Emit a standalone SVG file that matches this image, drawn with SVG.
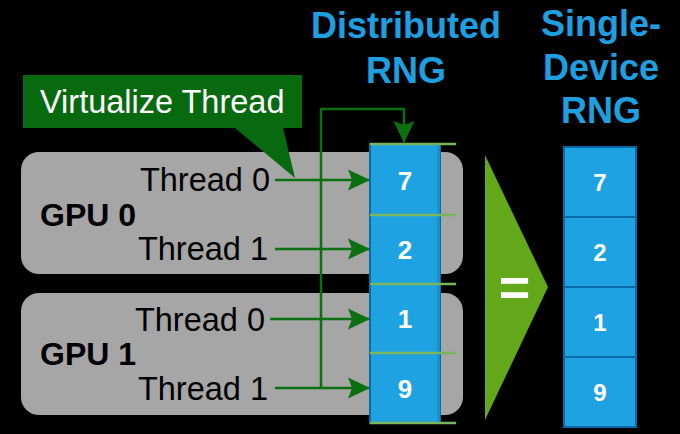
<svg xmlns="http://www.w3.org/2000/svg" width="680" height="434" viewBox="0 0 680 434">
<defs>
<style>
.gpu{fill:#a6a6a6}
.lbl{font-family:"Liberation Sans",Arial,sans-serif;font-size:32.5px;fill:#000}
.gpul{font-family:"Liberation Sans",Arial,sans-serif;font-size:32px;font-weight:bold;fill:#000}
.head{font-family:"Liberation Sans",Arial,sans-serif;font-size:36px;font-weight:bold;fill:#1ea0e0;text-anchor:middle}
.num{font-family:"Liberation Sans",Arial,sans-serif;font-size:26px;font-weight:bold;fill:#fff;text-anchor:middle}
.num2{font-family:"Liberation Sans",Arial,sans-serif;font-size:24px;font-weight:bold;fill:#fff;text-anchor:middle}
.cell{fill:#1ea2e2;stroke:#0b6aa8;stroke-width:2}
.sep{stroke:#7ab55c;stroke-width:2.5}
.conn{stroke:#0a7010;stroke-width:2.5;fill:none}
</style>
<marker id="ah" viewBox="-22 -11 24 22" refX="0" refY="0" markerWidth="24" markerHeight="22" markerUnits="userSpaceOnUse" orient="auto">
<path d="M1,0 L-21,-10.5 L-17,0 L-21,10.5 Z" fill="#0a7010"/>
</marker>
</defs>
<rect x="0" y="0" width="680" height="434" fill="#000"/>

<g id="headings">
<text class="head" x="406" y="38">Distributed</text>
<text class="head" x="406" y="83">RNG</text>
<text class="head" x="601" y="36">Single-</text>
<text class="head" x="601" y="80">Device</text>
<text class="head" x="601" y="123">RNG</text>
</g>

<g id="gpu0">
<rect class="gpu" x="21" y="152" width="442" height="122" rx="18"/>
<text class="lbl" x="270" y="191" text-anchor="end">Thread 0</text>
<text class="gpul" x="40" y="226">GPU 0</text>
<text class="lbl" x="268" y="260" text-anchor="end">Thread 1</text>
</g>

<g id="gpu1">
<rect class="gpu" x="21" y="293" width="442" height="122" rx="18"/>
<text class="lbl" x="265" y="331" text-anchor="end">Thread 0</text>
<text class="gpul" x="40" y="365">GPU 1</text>
<text class="lbl" x="268" y="400" text-anchor="end">Thread 1</text>
</g>

<g id="distributed-rng">
<rect x="370" y="144" width="70" height="279" fill="#1ea2e2" stroke="#0b6aa8" stroke-width="2"/>
<rect x="437" y="145" width="3" height="277" fill="#1a8fce"/>
<line class="sep" x1="370" y1="144" x2="456" y2="144"/>
<line class="sep" x1="370" y1="215" x2="456" y2="215"/>
<line class="sep" x1="370" y1="284" x2="456" y2="284"/>
<line class="sep" x1="370" y1="353" x2="456" y2="353"/>
<line class="sep" x1="370" y1="423" x2="456" y2="423"/>
<text class="num" x="405" y="190">7</text>
<text class="num" x="405" y="259">2</text>
<text class="num" x="405" y="328">1</text>
<text class="num" x="405" y="398">9</text>
</g>

<g id="callout">
<path d="M23,75 H302 V128 H283 L295,178 L235,128 H23 Z" fill="#076a0e"/>
<text x="40" y="113" font-family="'Liberation Sans',Arial,sans-serif" font-size="32.5" fill="#fff">Virtualize Thread</text>
</g>

<g id="equals">
<polygon points="485,155 548,287 485,420" fill="#62a81a"/>
<text x="514.5" y="306" font-family="'Liberation Sans',Arial,sans-serif" font-size="54" font-weight="bold" fill="#fff" text-anchor="middle">=</text>
</g>

<g id="single-rng">
<rect class="cell" x="564" y="147" width="72" height="70"/>
<rect class="cell" x="564" y="217" width="72" height="70"/>
<rect class="cell" x="564" y="287" width="72" height="70"/>
<rect class="cell" x="564" y="357" width="72" height="70"/>
<text class="num2" x="600" y="191">7</text>
<text class="num2" x="600" y="261">2</text>
<text class="num2" x="600" y="331">1</text>
<text class="num2" x="600" y="401">9</text>
</g>

<g id="connectors">
<line class="conn" x1="275" y1="180" x2="369" y2="180" marker-end="url(#ah)"/>
<line class="conn" x1="275" y1="249" x2="369" y2="249" marker-end="url(#ah)"/>
<line class="conn" x1="270" y1="319" x2="369" y2="319" marker-end="url(#ah)"/>
<line class="conn" x1="275" y1="388" x2="369" y2="388" marker-end="url(#ah)"/>
<path class="conn" d="M321,388 V109 H404 V142" marker-end="url(#ah)"/>
</g>
</svg>
